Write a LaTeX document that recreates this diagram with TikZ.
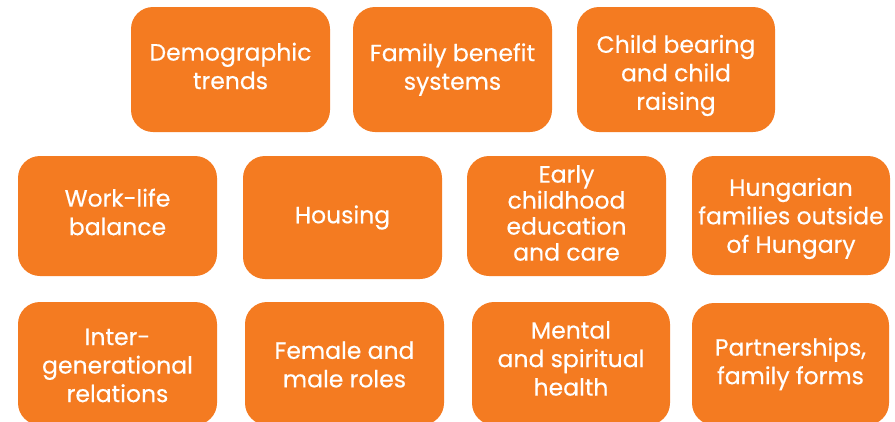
\documentclass[tikz,border=0pt]{standalone}
\usepackage{fontspec}
\setmainfont{Poppins}[FakeBold=0.4]
\definecolor{boxorange}{RGB}{244,123,33}
\tikzset{
  topic/.style={fill=boxorange, draw=none, rounded corners=22pt, inner sep=0pt,
    text=white, align=center, font=\fontsize{23.5}{28.5}\selectfont},
  tight/.style={font=\fontsize{23.5}{26}\selectfont},
}
\newcommand{\tbox}[7][]{% opts, name, x1, y1, x2, y2, text
  \node[topic, minimum width={#5-#3}, minimum height={#6-#4}] (#2) at ({(#3+#5)/2},{(#4+#6)/2}) {};
  \node[topic, fill=none, #1] at (#2.center) {#7};
}
\begin{document}
\begin{tikzpicture}[x=1pt,y=-1pt]
\useasboundingbox (0,0) rectangle (895,421);
\clip (0,0) rectangle (895,421);
\tbox[yshift=3.5pt]{demo}{131}{7}{330}{132}{Demographic\\trends}
\tbox{benefit}{353}{7}{552}{132}{Family benefit\\systems}
\tbox[yshift=-6pt]{child}{577}{7}{775}{132}{Child bearing\\and child\\raising}
\tbox[yshift=4pt]{work}{18}{156}{217}{276}{Work-life\\balance}
\tbox{housing}{243}{156}{442}{279}{Housing}
\tbox[tight,yshift=3pt]{early}{467}{156}{666}{276}{Early\\childhood\\education\\and care}
\tbox[yshift=-3pt]{hung}{692}{156}{890}{275}{Hungarian\\families outside\\of Hungary}
\tbox[yshift=-2pt]{inter}{18}{302}{217}{425}{Inter-\\generational\\relations}
\tbox[yshift=-1pt]{female}{245}{302}{444}{425}{Female and\\male roles}
\tbox[yshift=5pt]{mental}{472}{302}{670}{425}{Mental\\and spiritual\\health}
\tbox{partner}{692}{303}{889}{425}{Partnerships,\\family forms}
\end{tikzpicture}
\end{document}
